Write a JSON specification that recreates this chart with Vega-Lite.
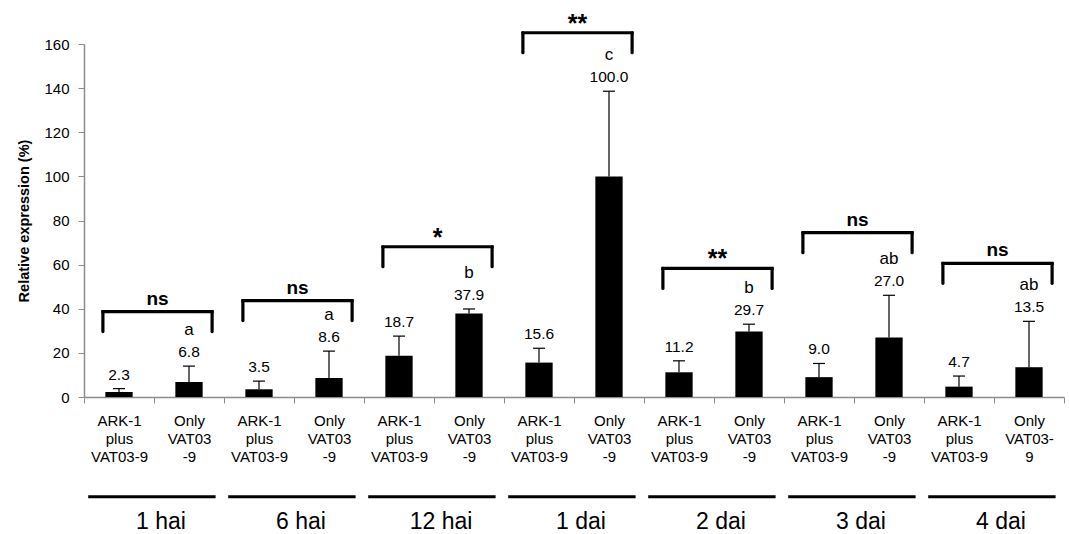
{
  "$schema": "https://vega.github.io/schema/vega-lite/v6.json",
  "width": 980,
  "height": 353,
  "autosize": {"type": "none"},
  "padding": {"left": 84, "top": 44, "right": 5, "bottom": 137},
  "background": "white",
  "config": {"view": {"stroke": null}, "font": "Liberation Sans"},
  "datasets": {
    "bars": [
      {"cat": "01|ARK-1|plus|VAT03-9", "grp": "1 hai", "v": 2.3, "hi": 3.8, "letter": ""},
      {"cat": "02|Only|VAT03|-9", "grp": "1 hai", "v": 6.8, "hi": 14.0, "letter": "a"},
      {"cat": "03|ARK-1|plus|VAT03-9", "grp": "6 hai", "v": 3.5, "hi": 7.2, "letter": ""},
      {"cat": "04|Only|VAT03|-9", "grp": "6 hai", "v": 8.6, "hi": 20.8, "letter": "a"},
      {"cat": "05|ARK-1|plus|VAT03-9", "grp": "12 hai", "v": 18.7, "hi": 27.6, "letter": ""},
      {"cat": "06|Only|VAT03|-9", "grp": "12 hai", "v": 37.9, "hi": 39.9, "letter": "b"},
      {"cat": "07|ARK-1|plus|VAT03-9", "grp": "1 dai", "v": 15.6, "hi": 22.1, "letter": ""},
      {"cat": "08|Only|VAT03|-9", "grp": "1 dai", "v": 100.0, "hi": 138.6, "letter": "c"},
      {"cat": "09|ARK-1|plus|VAT03-9", "grp": "2 dai", "v": 11.2, "hi": 16.4, "letter": ""},
      {"cat": "10|Only|VAT03|-9", "grp": "2 dai", "v": 29.7, "hi": 33.0, "letter": "b"},
      {"cat": "11|ARK-1|plus|VAT03-9", "grp": "3 dai", "v": 9.0, "hi": 15.2, "letter": ""},
      {"cat": "12|Only|VAT03|-9", "grp": "3 dai", "v": 27.0, "hi": 46.1, "letter": "ab"},
      {"cat": "13|ARK-1|plus|VAT03-9", "grp": "4 dai", "v": 4.7, "hi": 9.5, "letter": ""},
      {"cat": "14|Only|VAT03-|9", "grp": "4 dai", "v": 13.5, "hi": 34.3, "letter": "ab"}
    ],
    "brackets": [
      {"grp": "1 hai", "a": "01|ARK-1|plus|VAT03-9", "b": "02|Only|VAT03|-9", "y": 38.7, "sig": "ns"},
      {"grp": "6 hai", "a": "03|ARK-1|plus|VAT03-9", "b": "04|Only|VAT03|-9", "y": 43.7, "sig": "ns"},
      {"grp": "12 hai", "a": "05|ARK-1|plus|VAT03-9", "b": "06|Only|VAT03|-9", "y": 68.1, "sig": "*"},
      {"grp": "1 dai", "a": "07|ARK-1|plus|VAT03-9", "b": "08|Only|VAT03|-9", "y": 165.1, "sig": "**"},
      {"grp": "2 dai", "a": "09|ARK-1|plus|VAT03-9", "b": "10|Only|VAT03|-9", "y": 58.3, "sig": "**"},
      {"grp": "3 dai", "a": "11|ARK-1|plus|VAT03-9", "b": "12|Only|VAT03|-9", "y": 74.5, "sig": "ns"},
      {"grp": "4 dai", "a": "13|ARK-1|plus|VAT03-9", "b": "14|Only|VAT03-|9", "y": 60.6, "sig": "ns"}
    ]
  },
  "layer": [
    {
      "data": {"name": "bars"},
      "mark": {"type": "bar", "color": "black", "width": {"band": 0.39}},
      "encoding": {
        "x": {
          "field": "cat", "type": "nominal", "sort": "ascending",
          "scale": {"paddingInner": 0, "paddingOuter": 0},
          "axis": {
            "title": null, "labelAngle": 0,
            "labelExpr": "slice(split(datum.label, '|'), 1)",
            "labelFontSize": 15, "labelLineHeight": 18, "labelColor": "black",
            "labelPadding": 10, "labelBaseline": "top",
            "tickBand": "extent", "tickSize": 6, "tickColor": "#8c8c8c",
            "domainColor": "#8c8c8c", "domainWidth": 1.5
          }
        },
        "y": {
          "field": "v", "type": "quantitative",
          "scale": {"domain": [0, 160], "nice": false},
          "axis": {
            "title": "Relative expression (%)", "titleFontSize": 14.5, "titleFontWeight": "bold",
            "titleColor": "black", "titlePadding": 12,
            "values": [0, 20, 40, 60, 80, 100, 120, 140, 160],
            "grid": false, "labelFontSize": 15, "labelColor": "black", "labelPadding": 9,
            "tickSize": 6, "tickColor": "#8c8c8c", "domainColor": "#8c8c8c", "domainWidth": 1.5
          }
        }
      }
    },
    {
      "data": {"name": "bars"},
      "mark": {"type": "rule", "color": "black", "strokeWidth": 1.2},
      "encoding": {
        "x": {"field": "cat", "type": "nominal", "bandPosition": 0.5},
        "y": {"field": "v", "type": "quantitative"},
        "y2": {"field": "hi"}
      }
    },
    {
      "data": {"name": "bars"},
      "mark": {"type": "rule", "color": "black", "strokeWidth": 1.2, "xOffset": -6, "x2Offset": 6},
      "encoding": {
        "x": {"field": "cat", "type": "nominal", "bandPosition": 0.5},
        "x2": {"field": "cat", "bandPosition": 0.5},
        "y": {"field": "hi", "type": "quantitative"}
      }
    },
    {
      "data": {"name": "bars"},
      "mark": {"type": "text", "fontSize": 15.5, "color": "black", "baseline": "middle", "dy": -14},
      "encoding": {
        "x": {"field": "cat", "type": "nominal", "bandPosition": 0.5},
        "y": {"field": "hi", "type": "quantitative"},
        "text": {"field": "v", "type": "quantitative", "format": ".1f"}
      }
    },
    {
      "data": {"name": "bars"},
      "mark": {"type": "text", "fontSize": 17, "color": "black", "baseline": "middle", "dy": -36},
      "encoding": {
        "x": {"field": "cat", "type": "nominal", "bandPosition": 0.5},
        "y": {"field": "hi", "type": "quantitative"},
        "text": {"field": "letter", "type": "nominal"}
      }
    },
    {
      "data": {"name": "brackets"},
      "mark": {"type": "rule", "color": "black", "strokeWidth": 3.2, "strokeCap": "square"},
      "encoding": {
        "x": {"field": "a", "type": "nominal", "bandPosition": 0.27},
        "x2": {"field": "b", "bandPosition": 0.83},
        "y": {"field": "y", "type": "quantitative"}
      }
    },
    {
      "data": {"name": "brackets"},
      "mark": {"type": "rule", "color": "black", "strokeWidth": 3.2, "strokeCap": "round", "y2Offset": 20},
      "encoding": {
        "x": {"field": "a", "type": "nominal", "bandPosition": 0.27},
        "y": {"field": "y", "type": "quantitative"},
        "y2": {"field": "y"}
      }
    },
    {
      "data": {"name": "brackets"},
      "mark": {"type": "rule", "color": "black", "strokeWidth": 3.2, "strokeCap": "round", "y2Offset": 20},
      "encoding": {
        "x": {"field": "b", "type": "nominal", "bandPosition": 0.83},
        "y": {"field": "y", "type": "quantitative"},
        "y2": {"field": "y"}
      }
    },
    {
      "data": {"name": "brackets"},
      "transform": [{"filter": "datum.sig == 'ns'"}],
      "mark": {"type": "text", "fontSize": 19, "fontWeight": "bold", "color": "black", "baseline": "middle", "dy": -13},
      "encoding": {
        "x": {"field": "b", "type": "nominal", "bandPosition": 0.05},
        "y": {"field": "y", "type": "quantitative"},
        "text": {"field": "sig", "type": "nominal"}
      }
    },
    {
      "data": {"name": "brackets"},
      "transform": [{"filter": "datum.sig != 'ns'"}],
      "mark": {"type": "text", "fontSize": 25, "fontWeight": "bold", "color": "black", "baseline": "middle", "dy": -9},
      "encoding": {
        "x": {"field": "b", "type": "nominal", "bandPosition": 0.05},
        "y": {"field": "y", "type": "quantitative"},
        "text": {"field": "sig", "type": "nominal"}
      }
    },
    {
      "data": {"name": "brackets"},
      "mark": {"type": "rule", "color": "black", "strokeWidth": 3},
      "encoding": {
        "x": {"field": "a", "type": "nominal", "bandPosition": 0.06},
        "x2": {"field": "b", "bandPosition": 0.88},
        "y": {"datum": -45.2, "type": "quantitative"}
      }
    },
    {
      "data": {"name": "brackets"},
      "mark": {"type": "text", "fontSize": 23, "color": "black", "baseline": "middle"},
      "encoding": {
        "x": {"field": "b", "type": "nominal", "bandPosition": 0.1},
        "y": {"datum": -56.5, "type": "quantitative"},
        "text": {"field": "grp", "type": "nominal"}
      }
    }
  ]
}
